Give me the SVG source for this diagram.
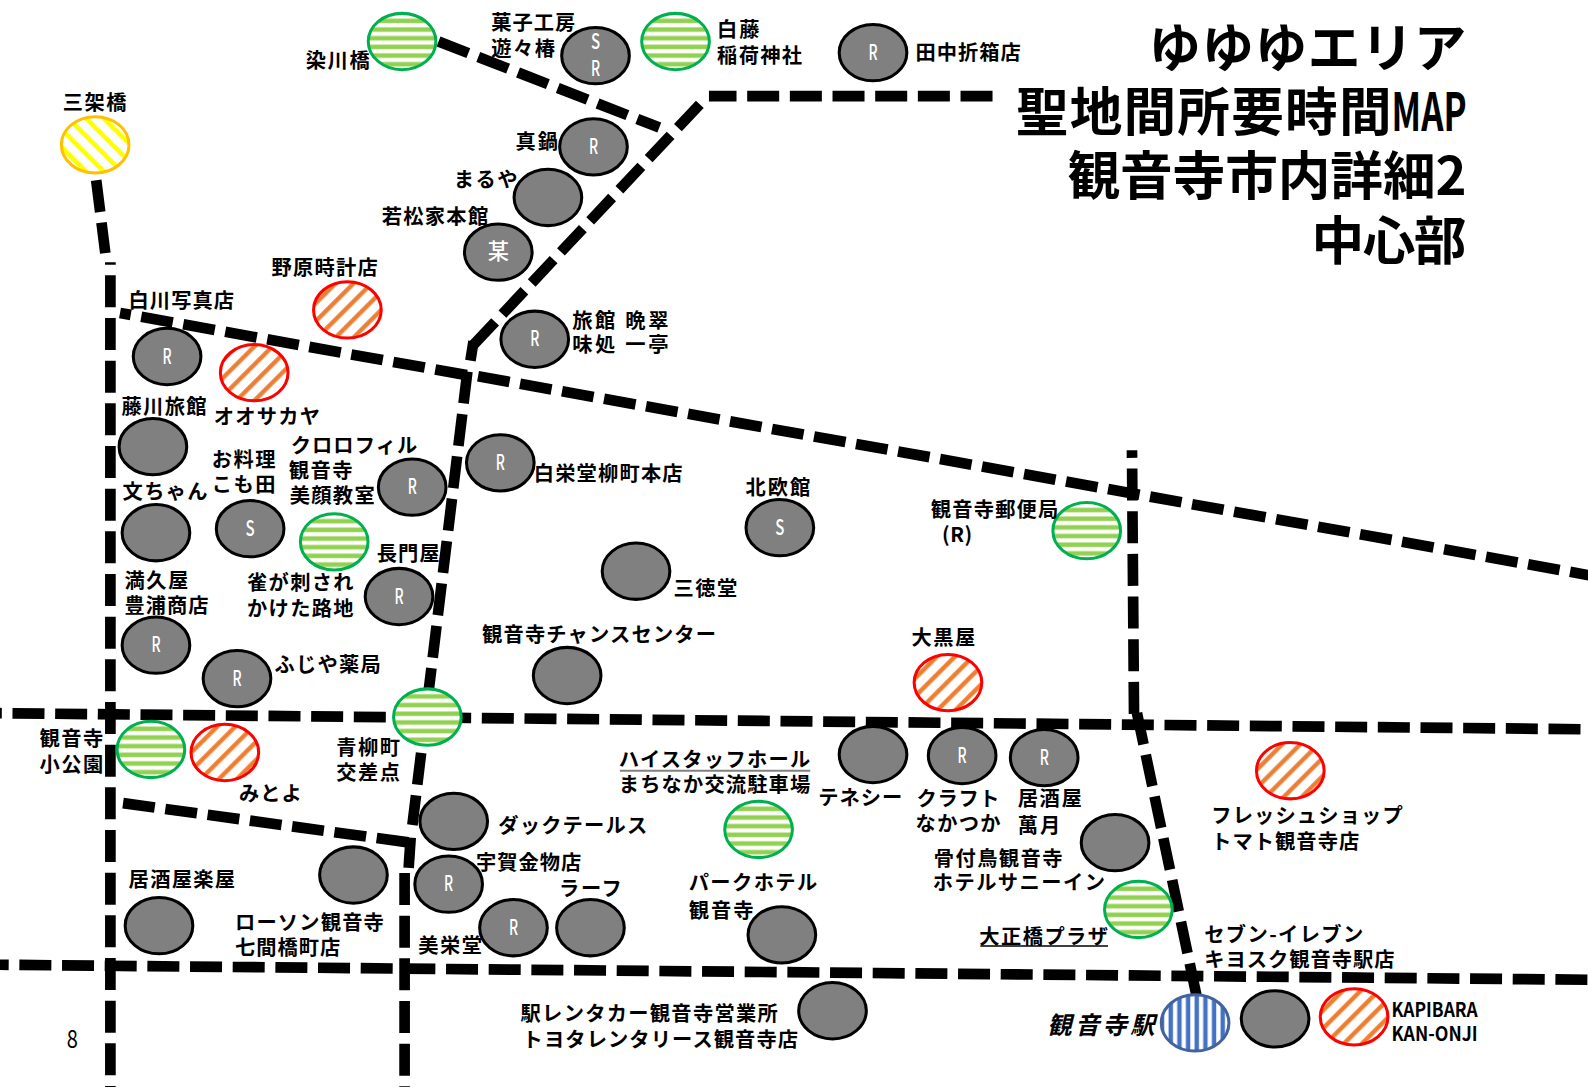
<svg xmlns="http://www.w3.org/2000/svg" width="1588" height="1087" viewBox="0 0 1588 1087">
<style>
text{font-family:"Noto Sans CJK JP","Noto Sans",sans-serif;fill:#000;font-size:20px;font-weight:700;transform:translate(-2px,0)}
.w{fill:#fff;font-size:21px;font-weight:500;text-anchor:middle;transform:none}
.h{font-size:52px;font-weight:700;transform:none}
.i{font-size:24px;font-style:italic}
.d{font-size:24px;font-weight:400;transform:none}
.e{stroke-width:3;rx:33.4px;ry:27.8px}
.g{fill:#808080;stroke:#000}
.c{fill:url(#pg);stroke:#00b050}
.o{fill:url(#po);stroke:#f00}
.y{fill:url(#py);stroke:#ffc000}
.b{fill:url(#pb);stroke:#41639f}
.r{fill:none;stroke:#000;stroke-width:10.55;stroke-dasharray:31.6 10.53}
.s{fill:none;stroke:#000;stroke-width:10.55}
</style>
<defs>
<pattern id="pg" width="1" height="0.154" patternContentUnits="userSpaceOnUse"><rect width="80" height="9" fill="#fff"/><rect y="-3.4" width="80" height="4.8" fill="#d0ebb0"/><rect y="5" width="80" height="4.8" fill="#d0ebb0"/><rect y="-3.16" width="80" height="4" fill="#92d050"/><rect y="5.4" width="80" height="4" fill="#92d050"/></pattern>
<pattern id="po" width="12.6" height="12.6" patternUnits="userSpaceOnUse" patternTransform="rotate(45)"><rect width="12.6" height="12.6" fill="#fff"/><rect width="4.6" height="12.6" fill="#f8c8a4"/><rect x="0.3" width="4" height="12.6" fill="#ed7d31"/></pattern>
<pattern id="py" width="12.4" height="12.4" patternUnits="userSpaceOnUse" patternTransform="rotate(-45)"><rect width="12.4" height="12.4" fill="#fff"/><rect width="4.6" height="12.4" fill="#ff0"/></pattern>
<pattern id="pb" width="0.128" height="1" patternContentUnits="userSpaceOnUse"><rect width="9" height="70" fill="#fff"/><rect x="-1.4" width="4.6" height="70" fill="#a9c0e8"/><rect x="7.1" width="4.6" height="70" fill="#a9c0e8"/><rect x="-1.16" width="4" height="70" fill="#4472c4"/><rect x="7.4" width="4" height="70" fill="#4472c4"/></pattern>
</defs>
<g transform="translate(1 1) scale(1.0128)">
<g id="connectors">
<path class="r" d="M94 177L103 249"/>
<path class="r" d="M108 258V1073" stroke-dashoffset="29.3"/>
<path class="r" d="M117.5 308L460.5 369.5" stroke-dashoffset="20.8"/>
<path class="r" d="M471 370.5L1568 567"/>
<path class="r" d="M432 40L650 125"/>
<path class="r" d="M979 94H699"/>
<path class="r" d="M690 102L466 340"/>
<path class="s" d="M466.5 336L463.5 355"/>
<path class="r" d="M460.5 366L406.2 813.6"/>
<path class="r" d="M120.5 792L404 831"/>
<path class="s" d="M404.5 826L402.5 856"/>
<path class="r" d="M-1 703.2L1568 719.1" stroke-dashoffset="29.8"/>
<path class="r" d="M398.5 861V1073"/>
<path class="r" d="M-1 951.6L1568 966.4" stroke-dashoffset="23"/>
<path class="r" d="M1116.7 443.6L1118.7 704" stroke-dashoffset="24.1"/>
<path class="r" d="M1121.6 703L1181 985"/>
</g>
<g id="title">
<text class="h" x="1133" y="65" textLength="314">ゆゆゆエリア</text>
<text class="h" y="128"><tspan x="1002" textLength="371">聖地間所要時間</tspan><tspan x="1373" textLength="74" lengthAdjust="spacingAndGlyphs">MAP</tspan></text>
<text class="h" x="1053" y="192" textLength="394">観音寺市内詳細2</text>
<text class="h" x="1294" y="256" textLength="153">中心部</text>
</g>
<g id="n1"><ellipse class="e c" cx="396" cy="40"/><text x="303" y="66" textLength="63">染川橋</text></g>
<g id="n2"><ellipse class="e g" cx="587" cy="54"/><text class="w" x="587" y="47" textLength="9" lengthAdjust="spacingAndGlyphs">S</text><text class="w" x="587" y="74" textLength="9" lengthAdjust="spacingAndGlyphs">R</text><text x="486" y="29" textLength="83">菓子工房</text><text x="486" y="54" textLength="63">遊々椿</text></g>
<g id="n3"><ellipse class="e c" cx="666" cy="40"/><text x="709" y="36" textLength="42">白藤</text><text x="709" y="61" textLength="84">稲荷神社</text></g>
<g id="n4"><ellipse class="e g" cx="861" cy="51"/><text class="w" x="861" y="58" textLength="9" lengthAdjust="spacingAndGlyphs">R</text><text x="905" y="58" textLength="104">田中折箱店</text></g>
<g id="n5"><ellipse class="e y" cx="93" cy="142"/><text x="63" y="108" textLength="63">三架橋</text></g>
<g id="n6"><ellipse class="e g" cx="585" cy="144"/><text class="w" x="585" y="151" textLength="9" lengthAdjust="spacingAndGlyphs">R</text><text x="510" y="146" textLength="42">真鍋</text></g>
<g id="n7"><ellipse class="e g" cx="540" cy="194"/><text x="449" y="184" textLength="63">まるや</text></g>
<g id="n8"><ellipse class="e g" cx="491" cy="248"/><text class="w" x="491" y="255">某</text><text x="378" y="220" textLength="105">若松家本館</text></g>
<g id="n9"><ellipse class="e o" cx="342" cy="305"/><text x="269" y="271" textLength="105">野原時計店</text></g>
<g id="n10"><ellipse class="e g" cx="527" cy="334"/><text class="w" x="527" y="341" textLength="9" lengthAdjust="spacingAndGlyphs">R</text><text x="566" y="323" textLength="95" xml:space="preserve">旅館 晩翠</text><text x="566" y="347" textLength="95" xml:space="preserve">味処 一亭</text></g>
<g id="n11"><ellipse class="e g" cx="164" cy="351"/><text class="w" x="164" y="358" textLength="9" lengthAdjust="spacingAndGlyphs">R</text><text x="128" y="303" textLength="104">白川写真店</text></g>
<g id="n12"><ellipse class="e o" cx="250" cy="367"/><text x="212" y="418" textLength="105">オオサカヤ</text></g>
<g id="n13"><ellipse class="e g" cx="150" cy="440"/><text x="121" y="408" textLength="84">藤川旅館</text></g>
<g id="n14"><ellipse class="e g" cx="493" cy="456"/><text class="w" x="493" y="463" textLength="9" lengthAdjust="spacingAndGlyphs">R</text><text x="528" y="474" textLength="147">白栄堂柳町本店</text></g>
<g id="n15"><ellipse class="e g" cx="406" cy="480"/><text class="w" x="406" y="487" textLength="9" lengthAdjust="spacingAndGlyphs">R</text><text x="288" y="446" textLength="125">クロロフィル</text><text x="286" y="471" textLength="63">観音寺</text><text x="287" y="496" textLength="84">美顔教室</text></g>
<g id="n16"><ellipse class="e g" cx="153" cy="525"/><text x="122" y="492" textLength="84">文ちゃん</text></g>
<g id="n17"><ellipse class="e g" cx="246" cy="521"/><text class="w" x="246" y="528" textLength="9" lengthAdjust="spacingAndGlyphs">S</text><text x="210" y="460" textLength="63">お料理</text><text x="210" y="485" textLength="63">こも田</text></g>
<g id="n18"><ellipse class="e c" cx="329" cy="534"/><text x="245" y="582" textLength="105">雀が刺され</text><text x="245" y="607" textLength="105">かけた路地</text></g>
<g id="n19"><ellipse class="e g" cx="769" cy="520"/><text class="w" x="769" y="527" textLength="9" lengthAdjust="spacingAndGlyphs">S</text><text x="737" y="488" textLength="64">北欧館</text></g>
<g id="n20"><ellipse class="e g" cx="627" cy="563"/><text x="666" y="587" textLength="63">三徳堂</text></g>
<g id="n21"><ellipse class="e c" cx="1072" cy="523"/><text x="920" y="509" textLength="126">観音寺郵便局</text><text x="931" y="534" textLength="30">(R)</text></g>
<g id="n22"><ellipse class="e g" cx="393" cy="588"/><text class="w" x="393" y="595" textLength="9" lengthAdjust="spacingAndGlyphs">R</text><text x="373" y="553" textLength="62">長門屋</text></g>
<g id="n23"><ellipse class="e g" cx="153" cy="636"/><text class="w" x="153" y="643" textLength="9" lengthAdjust="spacingAndGlyphs">R</text><text x="124" y="580" textLength="63">満久屋</text><text x="124" y="604" textLength="83">豊浦商店</text></g>
<g id="n24"><ellipse class="e g" cx="233" cy="669"/><text class="w" x="233" y="676" textLength="9" lengthAdjust="spacingAndGlyphs">R</text><text x="272" y="663" textLength="105">ふじや薬局</text></g>
<g id="n25"><ellipse class="e g" cx="559" cy="666"/><text x="477" y="633" textLength="231">観音寺チャンスセンター</text></g>
<g id="n26"><ellipse class="e o" cx="935" cy="673"/><text x="901" y="636" textLength="63">大黒屋</text></g>
<g id="n27"><ellipse class="e c" cx="421" cy="707"/><text x="333" y="744" textLength="63">青柳町</text><text x="333" y="769" textLength="63">交差点</text></g>
<g id="n28"><ellipse class="e c" cx="148" cy="739"/><text x="40" y="736" textLength="63">観音寺</text><text x="40" y="761" textLength="63">小公園</text></g>
<g id="n29"><ellipse class="e o" cx="221" cy="742"/><text x="237" y="790" textLength="62">みとよ</text></g>
<g id="n30"><ellipse class="e g" cx="861" cy="744"/><text x="809" y="794" textLength="83">テネシー</text></g>
<g id="n31"><ellipse class="e g" cx="949" cy="745"/><text class="w" x="949" y="752" textLength="9" lengthAdjust="spacingAndGlyphs">R</text><text x="906" y="795" textLength="82">クラフト</text><text x="905" y="820" textLength="84">なかつか</text></g>
<g id="n32"><ellipse class="e g" cx="1030" cy="747"/><text class="w" x="1030" y="754" textLength="9" lengthAdjust="spacingAndGlyphs">R</text><text x="1006" y="795" textLength="63">居酒屋</text><text x="1006" y="821" textLength="42">萬月</text></g>
<g id="n33"><ellipse class="e o" cx="1273" cy="760"/><text x="1197" y="812" textLength="189">フレッシュショップ</text><text x="1197" y="837" textLength="146">トマト観音寺店</text></g>
<g id="n34"><ellipse class="e c" cx="748" cy="818"/><path d="M611 760H799" stroke="#808080" stroke-width="2"/><text x="612" y="756" textLength="189">ハイスタッフホール</text><text x="612" y="781" textLength="189">まちなか交流駐車場</text></g>
<g id="n35"><ellipse class="e g" cx="447" cy="810"/><text x="493" y="821" textLength="147">ダックテールス</text></g>
<g id="n36"><ellipse class="e g" cx="442" cy="872"/><text class="w" x="442" y="879" textLength="9" lengthAdjust="spacingAndGlyphs">R</text><text x="471" y="858" textLength="104">宇賀金物店</text></g>
<g id="n37"><ellipse class="e g" cx="348" cy="863"/><text x="233" y="917" textLength="147">ローソン観音寺</text><text x="233" y="942" textLength="104">七間橋町店</text></g>
<g id="n38"><ellipse class="e g" cx="156" cy="913"/><text x="128" y="875" textLength="105">居酒屋楽屋</text></g>
<g id="n39"><ellipse class="e g" cx="506" cy="915"/><text class="w" x="506" y="922" textLength="9" lengthAdjust="spacingAndGlyphs">R</text><text x="414" y="940" textLength="63">美栄堂</text></g>
<g id="n40"><ellipse class="e g" cx="582" cy="915"/><text x="553" y="884" textLength="62">ラーフ</text></g>
<g id="n41"><ellipse class="e g" cx="771" cy="922"/><text x="681" y="878" textLength="127">パークホテル</text><text x="681" y="905" textLength="64">観音寺</text></g>
<g id="n42"><ellipse class="e g" cx="1100" cy="831"/><text x="923" y="854" textLength="127">骨付鳥観音寺</text><text x="922" y="878" textLength="170">ホテルサニーイン</text></g>
<g id="n43"><ellipse class="e c" cx="1123" cy="897"/><path d="M967 933H1093" stroke="#000" stroke-width="1.5"/><text x="968" y="931" textLength="127">大正橋プラザ</text></g>
<g id="n44"><ellipse class="e g" cx="821" cy="997"/><text x="515" y="1007" textLength="254">駅レンタカー観音寺営業所</text><text x="517" y="1033" textLength="272">トヨタレンタリース観音寺店</text></g>
<g id="n45"><ellipse class="e b" cx="1179" cy="1009"/><text class="i" x="1035" y="1020" textLength="106">観音寺駅</text></g>
<g id="n46"><ellipse class="e g" cx="1258" cy="1005"/><text x="1190" y="929" textLength="157">セブン-イレブン</text><text x="1190" y="954" textLength="188">キヨスク観音寺駅店</text></g>
<g id="n47"><ellipse class="e o" cx="1336" cy="1003"/><text x="1375" y="1003" textLength="85" lengthAdjust="spacingAndGlyphs">KAPIBARA</text><text x="1375" y="1027" textLength="85" lengthAdjust="spacingAndGlyphs">KAN-ONJI</text></g>
<text class="d" x="65" y="1034" textLength="11" lengthAdjust="spacingAndGlyphs">8</text>
</g>
</svg>
